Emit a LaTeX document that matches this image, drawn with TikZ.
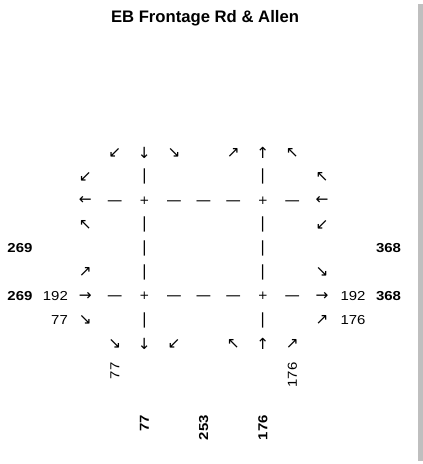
\documentclass[tikz,border=0pt]{standalone}
\usepackage{fontspec}
\setmainfont{Liberation Sans}
\newfontfamily\glyphfont{DejaVu Sans}
\newfontfamily\countfont{Liberation Sans}[FakeStretch=1.15]
\usetikzlibrary{matrix, positioning}
\definecolor{barGray}{RGB}{191,191,191}

\begin{document}
\begin{tikzpicture}[x=0.75pt, y=-0.75pt,
  title/.style={font=\fontsize{12.5}{14}\selectfont\bfseries, inner sep=0pt},
  vol/.style={font=\countfont\fontsize{9.75}{11}\selectfont, inner sep=0pt},
  tot/.style={inner sep=0pt, font=\countfont\fontsize{9.75}{11}\selectfont\bfseries},
  cross/.style={font=\glyphfont\fontsize{9}{10}\selectfont},
  lane/.style={yshift=-1.6pt, minimum height=10pt}]
  \useasboundingbox (0,0) rectangle (423,464);
  \fill[barGray] (418,4) rectangle (423,461);
  \node[title, anchor=base] (title) at (205,22.8) {EB Frontage Rd \& Allen};

  % lanes and turning movements
  \matrix (grid) [matrix of nodes, row sep=0pt, column sep=0pt,
    nodes={font=\glyphfont\fontsize{11.5}{12}\selectfont, inner sep=0pt,
      minimum width=22.2pt, minimum height=17.9pt, anchor=center}]
    at (203.6,248.5) {
          & ↙            & ↓            & ↘            &              & ↗            & ↑            & ↖            &   \\
    ↙     &              & {|}          &              &              &              & {|}          &              & ↖ \\
    ←     & |[lane]| —   & |[cross]| +  & |[lane]| —   & |[lane]| —   & |[lane]| —   & |[cross]| +  & |[lane]| —   & ← \\
    ↖     &              & {|}          &              &              &              & {|}          &              & ↙ \\
          &              & {|}          &              &              &              & {|}          &              &   \\
    ↗     &              & {|}          &              &              &              & {|}          &              & ↘ \\
    →     & |[lane]| —   & |[cross]| +  & |[lane]| —   & |[lane]| —   & |[lane]| —   & |[cross]| +  & |[lane]| —   & → \\
    ↘     &              & {|}          &              &              &              & {|}          &              & ↗ \\
          & ↘            & ↓            & ↙            &              & ↖            & ↑            & ↗            &   \\
  };

  % west side
  \node[vol, left=1.5pt of grid-7-1] (wThru) {192};
  \node[vol, left=1.5pt of grid-8-1] (wRight) {77};
  \node[tot, left=7.5pt of wThru] (wApp) {269};
  \node[tot] (wDep) at (wApp |- grid-5-3) {269};

  % east side
  \node[vol, right=2.4pt of grid-7-9] (eThru) {192};
  \node[vol, right=2.4pt of grid-8-9] (eLeft) {176};
  \node[tot, right=7.5pt of eThru] (eDep) {368};
  \node[tot] (eApp) at (eDep |- grid-5-7) {368};

  % south side
  \node[vol, rotate=90, below=4.5pt of grid-9-2, anchor=east] (sRight) {77};
  \node[vol, rotate=90, below=4.5pt of grid-9-8, anchor=east] (sLeft) {176};
  \node[tot, rotate=90, below=44pt of grid-9-3, anchor=east] (sDep) {77};
  \node[tot, rotate=90, anchor=east] (sMid) at (grid-7-5 |- sDep.east) {253};
  \node[tot, rotate=90, anchor=east] (sApp) at (grid-9-7 |- sDep.east) {176};
\end{tikzpicture}
\end{document}
